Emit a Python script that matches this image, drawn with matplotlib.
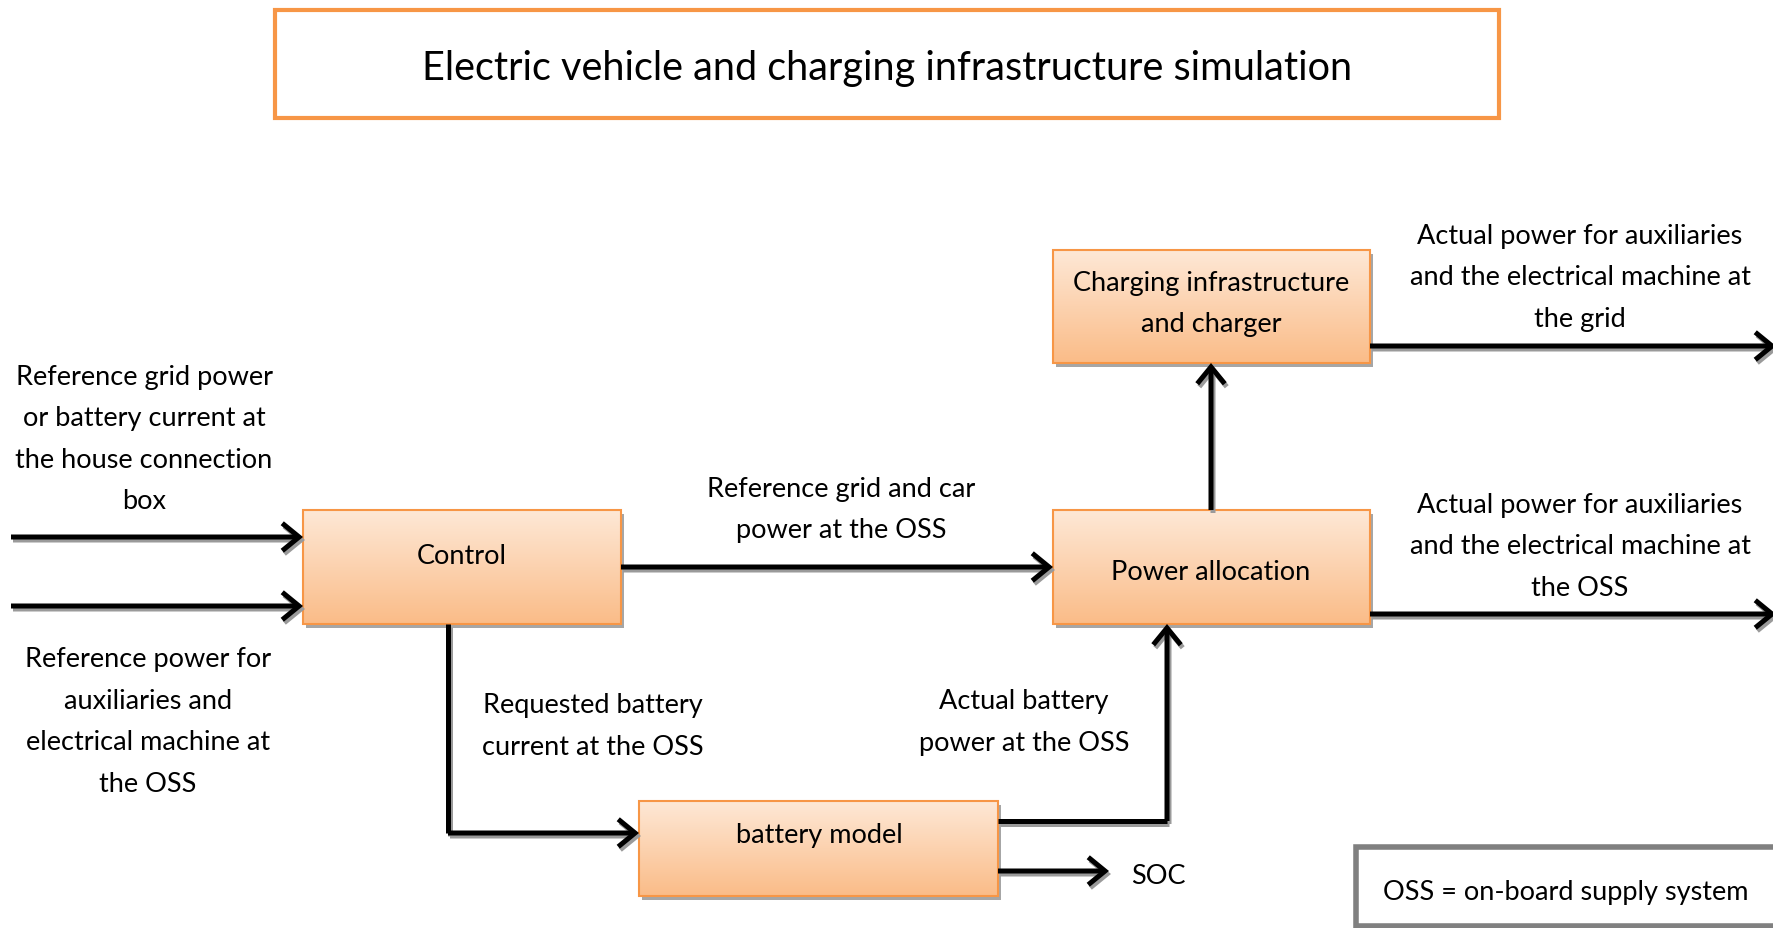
#!/usr/bin/env python3
"""ev_charging_diagram.py - block diagram of the EV / charging simulation"""

import matplotlib

matplotlib.use("Agg")
import matplotlib.pyplot as plt
import numpy as np
from matplotlib.patches import Rectangle

plt.rcParams["font.family"] = ["Lato", "DejaVu Sans"]

# Texts of the diagram
title = "Electric vehicle and charging infrastructure simulation"
block_names = [
    "Control",
    "Power allocation",
    "Charging infrastructure\nand charger",
    "battery model",
]
signal_labels = [
    "Reference grid power\nor battery current at\nthe house connection\nbox",
    "Reference power for\nauxiliaries and\nelectrical machine at\nthe OSS",
    "Reference grid and car\npower at the OSS",
    "Requested battery\ncurrent at the OSS",
    "Actual battery\npower at the OSS",
    "Actual power for auxiliaries\nand the electrical machine at\nthe grid",
    "Actual power for auxiliaries\nand the electrical machine at\nthe OSS",
]
soc_label = "SOC"
legend_text = "OSS = on-board supply system"

# Layout in pixels, y downwards
W, H = 1773, 929
block_boxes = [
    (303, 511, 621, 625),
    (1053, 511, 1370, 625),
    (1053, 251, 1370, 364),
    (639, 802, 998, 897),
]
# centre of the first text line
block_text_pos = [(462, 556), (1211, 572), (1211, 283), (819, 836)]
signal_pos = [(144, 377), (148, 660), (841, 489), (593, 706), (1024, 702),
              (1580, 236), (1580, 505)]
arrows = [
    [(11, 538), (303, 538)],
    [(11, 607), (303, 607)],
    [(621, 568), (1053, 568)],
    [(448, 625), (448, 834), (639, 834)],
    [(998, 822), (1167, 822), (1167, 625)],
    [(998, 872), (1109, 872)],
    [(1211, 511), (1211, 364)],
    [(1370, 347), (1776, 347)],
    [(1370, 615), (1776, 615)],
]

ORANGE = "#f79646"
FS = 19.5
STEP = 41.5


def put_lines(ax, x, y, text, ha="center", z=7):
    for i, line in enumerate(text.split("\n")):
        ax.text(x, y + i * STEP, line, ha=ha, va="center", fontsize=FS,
                zorder=z)


def draw_block(ax, box):
    x0, y0, x1, y1 = box
    ax.add_patch(Rectangle((x0 + 3, y0 + 4), x1 - x0, y1 - y0,
                           facecolor="#a6a6a6", edgecolor="none", zorder=2))
    grad = np.linspace(0, 1, 100)[:, None, None]
    top = np.array([254, 232, 214]) / 255
    bot = np.array([250, 188, 136]) / 255
    img = top * (1 - grad) + bot * grad
    ax.imshow(img, extent=(x0, x1, y1, y0), aspect="auto", zorder=3,
              interpolation="bilinear")
    ax.add_patch(Rectangle((x0, y0), x1 - x0, y1 - y0, facecolor="none",
                           edgecolor=ORANGE, lw=1.5, zorder=4))


def draw_arrow(ax, pts, color, dx=0, dy=0, z=6):
    xs = [p[0] + dx for p in pts]
    ys = [p[1] + dy for p in pts]
    if len(pts) > 2:
        ax.plot(xs[:-1], ys[:-1], color=color, lw=3.6, solid_capstyle="butt",
                solid_joinstyle="miter", zorder=z)
    ax.annotate("", xy=(xs[-1], ys[-1]), xytext=(xs[-2], ys[-2]),
                annotation_clip=False,
                arrowprops=dict(arrowstyle="->,head_length=0.55,head_width=0.45",
                                color=color, lw=3.6, shrinkA=0, shrinkB=0,
                                mutation_scale=22, joinstyle="miter",
                                capstyle="butt"),
                zorder=z)


def plot(ax):
    ax.set_xlim(0, W)
    ax.set_ylim(H, 0)
    ax.axis("off")

    # title box
    ax.add_patch(Rectangle((275, 11), 1224, 108, facecolor="white",
                           edgecolor=ORANGE, lw=3, zorder=2))
    ax.text(887, 68, title, ha="center", va="center", fontsize=28.5, zorder=3)

    for box, (x, y), name in zip(block_boxes, block_text_pos, block_names):
        draw_block(ax, box)
        put_lines(ax, x, y, name, z=5)

    for pts in arrows:
        draw_arrow(ax, pts, "#9a9a9a", dx=2, dy=3, z=5)
        draw_arrow(ax, pts, "black", z=6)

    for (x, y), txt in zip(signal_pos, signal_labels):
        put_lines(ax, x, y, txt)
    put_lines(ax, 1131, 877, soc_label, ha="left")

    # legend box, running off the page
    ax.add_patch(Rectangle((1356, 848), 500, 79, facecolor="white",
                           edgecolor="#808080", lw=4, zorder=2))
    put_lines(ax, 1566, 893, legend_text, z=3)


def main():
    fig = plt.figure(figsize=(W / 100, H / 100), dpi=100)
    ax = fig.add_axes([0, 0, 1, 1])
    plot(ax)
    fig.savefig("out.png", dpi=100)


if __name__ == "__main__":
    main()
